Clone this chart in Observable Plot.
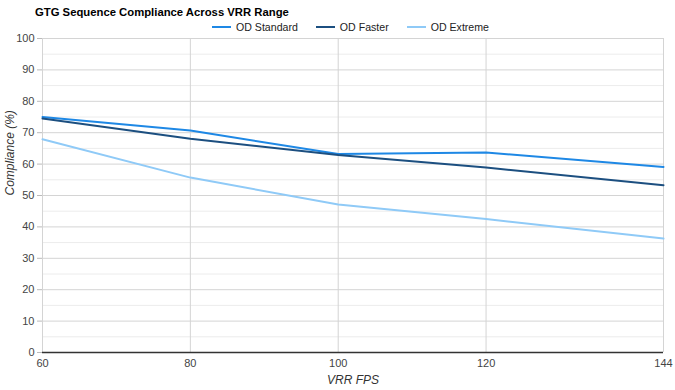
<!DOCTYPE html>
<html><head><meta charset="utf-8">
<script src="https://cdn.jsdelivr.net/npm/d3@7"></script>
<script src="https://cdn.jsdelivr.net/npm/@observablehq/plot@0.6"></script>
<style>
body{margin:0;background:#fff;font-family:"Liberation Sans",Arial,sans-serif;}
#wrap{position:relative;width:675px;height:390px;}
#title{position:absolute;left:35px;top:6px;font-size:11.3px;font-weight:bold;color:#000;white-space:nowrap;}
#legend{position:absolute;left:212px;top:21px;display:flex;font-size:10.6px;color:#222;white-space:nowrap;}
#legend .item{display:flex;align-items:center;margin-right:18px;}
#legend .sw{display:inline-block;width:19px;height:2px;margin-right:5px;}
#chart{position:absolute;left:0;top:0;}
</style></head>
<body><div id="wrap"><div id="chart"></div><div id="title"></div><div id="legend"></div></div>
<script>
const title = "GTG Sequence Compliance Across VRR Range";
const fps = [60, 80, 100, 120, 144];
const seriesNames = ["OD Standard", "OD Faster", "OD Extreme"];
const odStandard = [75.0, 70.7, 63.2, 63.7, 59.1];
const odFaster = [74.5, 68.1, 62.9, 58.9, 53.3];
const odExtreme = [67.9, 55.7, 47.1, 42.5, 36.3];
const colors = ["#1e88e5", "#1c4f80", "#8fcaf7"];
const yTicks = [0,10,20,30,40,50,60,70,80,90,100];
const yMinor = [5,15,25,35,45,55,65,75,85,95];

const values = [odStandard, odFaster, odExtreme];
const data = [];
seriesNames.forEach((s, i) => fps.forEach((f, j) => data.push({series: s, fps: f, value: values[i][j]})));

document.getElementById("title").textContent = title;
const leg = document.getElementById("legend");
seriesNames.forEach((s, i) => {
  const it = document.createElement("div"); it.className = "item";
  const sw = document.createElement("span"); sw.className = "sw"; sw.style.background = colors[i];
  it.appendChild(sw); it.appendChild(document.createTextNode(s)); leg.appendChild(it);
});

const chart = Plot.plot({
  width: 675, height: 390,
  marginTop: 38, marginBottom: 38, marginLeft: 42, marginRight: 12,
  style: {fontFamily: "Liberation Sans, Arial, sans-serif", fontSize: "11px", color: "#444", background: "#fff"},
  x: {type: "linear", domain: [60, 144], ticks: fps, tickFormat: d => String(d), label: null},
  y: {domain: [0, 100], ticks: yTicks, label: null},
  color: {domain: seriesNames, range: colors},
  marks: [
    Plot.ruleY(yMinor, {stroke: "#ececec", strokeWidth: 1}),
    Plot.ruleY(yTicks, {stroke: "#d4d4d4", strokeWidth: 1}),
    Plot.ruleX(fps, {stroke: "#d4d4d4", strokeWidth: 1}),
    Plot.axisY({ticks: yTicks, tickSize: 5, tickPadding: 3, stroke: "#bbb", label: null, fill: "#444", fontSize: 11}),
    Plot.axisX({ticks: fps, tickSize: 0, tickPadding: 7, label: null, fill: "#444", fontSize: 11, tickFormat: d => String(d)}),
    Plot.ruleY([0], {stroke: "#333", strokeWidth: 1.5}),
    Plot.line(data, {x: "fps", y: "value", z: "series", stroke: "series", strokeWidth: 2}),
    Plot.text(["Compliance (%)"], {frameAnchor: "left", dx: -32, rotate: -90, fontStyle: "italic", fontSize: 12, fill: "#333"}),
    Plot.text(["VRR FPS"], {frameAnchor: "bottom", dy: 31, fontStyle: "italic", fontSize: 12, fill: "#333"})
  ]
});
document.getElementById("chart").appendChild(chart);
</script></body></html>
